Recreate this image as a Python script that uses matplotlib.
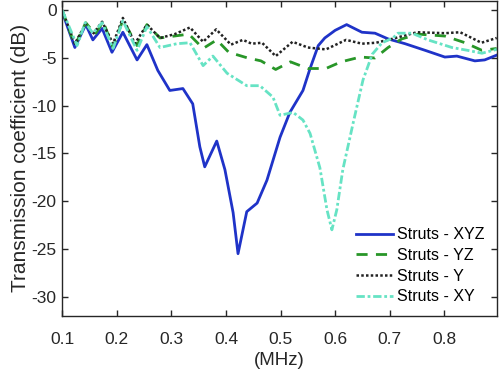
import matplotlib
matplotlib.use("Agg")
import matplotlib.pyplot as plt

# frequency (MHz) / transmission (dB)
f_xyz = [0.100, 0.123, 0.143, 0.156, 0.173, 0.191, 0.211, 0.237, 0.255, 0.275,
         0.297, 0.321, 0.339, 0.352, 0.361, 0.383, 0.398, 0.413, 0.422, 0.438,
         0.457, 0.475, 0.499, 0.517, 0.541, 0.554, 0.569, 0.581, 0.600, 0.621,
         0.649, 0.673, 0.697, 0.728, 0.765, 0.801, 0.823, 0.856, 0.874, 0.896]
db_xyz = [-0.2, -3.9, -1.5, -3.1, -1.9, -4.4, -2.3, -5.2, -3.6, -6.3,
          -8.4, -8.2, -9.8, -14.3, -16.4, -13.7, -16.7, -21.2, -25.5, -21.1,
          -20.2, -17.8, -13.3, -10.7, -8.4, -6.1, -3.7, -2.9, -2.1, -1.5,
          -2.3, -2.4, -3.0, -3.5, -4.2, -4.9, -4.8, -5.3, -5.2, -4.7]

f_yz = [0.100, 0.123, 0.143, 0.160, 0.175, 0.193, 0.211, 0.237, 0.255, 0.279,
        0.305, 0.332, 0.358, 0.383, 0.405, 0.440, 0.464, 0.491, 0.518, 0.550,
        0.583, 0.611, 0.646, 0.673, 0.697, 0.722, 0.752, 0.801, 0.838, 0.869,
        0.896]
db_yz = [0.0, -3.7, -1.3, -2.5, -1.2, -3.9, -1.0, -3.7, -1.5, -2.9,
         -2.7, -2.5, -4.0, -3.1, -4.4, -5.0, -5.3, -6.2, -5.4, -6.1,
         -6.1, -5.4, -4.9, -5.0, -3.9, -3.0, -2.5, -2.7, -3.4, -4.2,
         -4.0]

f_y = [0.100, 0.123, 0.143, 0.156, 0.173, 0.193, 0.211, 0.233, 0.255, 0.279,
       0.306, 0.334, 0.358, 0.382, 0.409, 0.431, 0.447, 0.466, 0.491, 0.522,
       0.550, 0.583, 0.620, 0.649, 0.675, 0.704, 0.750, 0.801, 0.829, 0.868,
       0.896]
db_y = [0.0, -3.5, -1.4, -2.5, -1.2, -3.5, -0.8, -3.5, -1.5, -2.9,
        -2.5, -1.8, -3.3, -2.0, -3.6, -3.1, -3.5, -3.4, -4.8, -3.3,
        -3.9, -4.1, -3.1, -3.5, -3.4, -3.0, -2.3, -2.4, -2.3, -3.4,
        -2.9]

f_xy = [0.100, 0.127, 0.142, 0.156, 0.173, 0.193, 0.211, 0.237, 0.255, 0.279,
        0.310, 0.334, 0.358, 0.376, 0.402, 0.438, 0.462, 0.486, 0.499, 0.523,
        0.541, 0.554, 0.572, 0.585, 0.594, 0.603, 0.614, 0.633, 0.651, 0.668,
        0.686, 0.706, 0.715, 0.741, 0.770, 0.814, 0.843, 0.869, 0.896]
db_xy = [0.0, -3.7, -1.3, -2.4, -1.3, -4.0, -1.1, -4.2, -1.7, -3.9,
         -3.5, -3.4, -5.8, -4.8, -6.6, -7.9, -7.9, -9.1, -11.0, -10.7,
         -11.5, -12.9, -16.5, -20.9, -23.0, -20.9, -16.7, -11.8, -7.3, -4.6,
         -3.4, -2.9, -2.4, -2.4, -3.1, -3.9, -4.2, -4.5, -4.1]

labels = ["Struts - XYZ", "Struts - YZ", "Struts - Y", "Struts - XY"]
x_ticks = [0.1, 0.2, 0.3, 0.4, 0.5, 0.6, 0.7, 0.8]
y_ticks = [0, -5, -10, -15, -20, -25, -30]

plt.rcParams["font.family"] = ["Liberation Sans", "DejaVu Sans"]
plt.rcParams["axes.unicode_minus"] = False
ink = "#262626"

fig = plt.figure(figsize=(5, 3.71), dpi=100)
ax = fig.add_axes([0.1246, 0.149, 0.8688, 0.849])

ax.plot(f_xyz, db_xyz, color="#1f33c8", lw=2, label=labels[0])
ax.plot(f_yz, db_yz, color="#289628", lw=2, dashes=(4, 3), label=labels[1])
ax.plot(f_y, db_y, color="#222222", lw=1.8, dashes=(1, 0.9), label=labels[2])
ax.plot(f_xy, db_xy, color="#66e3c4", lw=2, dashes=(3, 1, 1, 1), label=labels[3])

ax.set_xlim(0.1, 0.896)
ax.set_ylim(-32, 1)
ax.set_xticks(x_ticks)
ax.set_xticklabels([str(v) for v in x_ticks])
ax.set_yticks(y_ticks)
ax.set_yticklabels([str(v) for v in y_ticks])
ax.tick_params(direction="in", top=True, right=True, length=4, width=1,
               color=ink, labelcolor=ink, labelsize=12.5)
ax.tick_params(axis="x", pad=12)
ax.tick_params(axis="y", pad=4)
for s in ax.spines.values():
    s.set_color(ink)
    s.set_linewidth(1)

ax.set_xlabel("(MHz)", fontsize=13.5, color=ink, labelpad=3.5)
ax.set_ylabel("Transmission coefficient (dB)", fontsize=15, color=ink, labelpad=1)

ax.legend(loc="lower right", bbox_to_anchor=(0.971, 0.036), frameon=False,
          fontsize=11.5, handlelength=2.3, handletextpad=0.25, labelspacing=0.36,
          borderpad=0, borderaxespad=0)

fig.savefig("out.png", dpi=100)
